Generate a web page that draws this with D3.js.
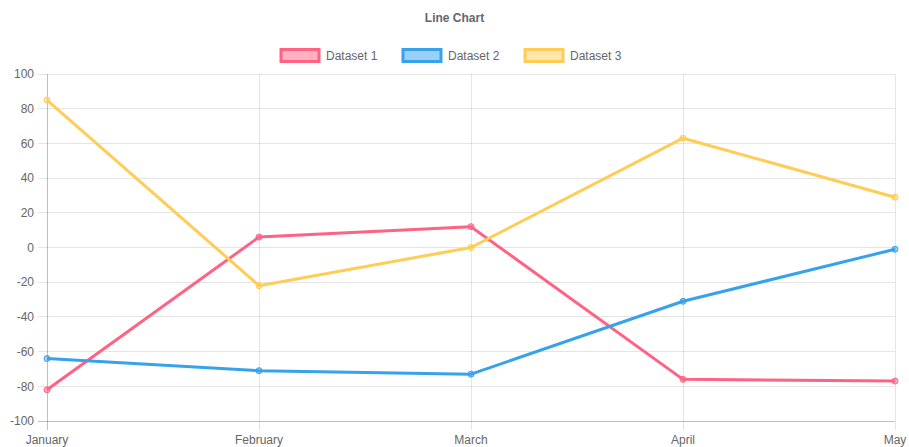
<!DOCTYPE html>
<html>
<head>
<meta charset="utf-8">
<script src="https://cdn.jsdelivr.net/npm/d3@7"></script>
<style>
  body { margin: 0; background: #fff; }
  text { font-family: "Liberation Sans", Arial, Helvetica, sans-serif; fill: #666; }
</style>
</head>
<body>
<div id="chart"></div>
<script>
// data
var months = ["January", "February", "March", "April", "May"];
var dataset1 = [-82, 6, 12, -76, -77];
var dataset2 = [-64, -71, -73, -31, -1];
var dataset3 = [85, -22, 0, 63, 29];
var yTicks = [100, 80, 60, 40, 20, 0, -20, -40, -60, -80, -100];
var seriesNames = ["Dataset 1", "Dataset 2", "Dataset 3"];
var seriesColors = ["rgb(255, 99, 132)", "rgb(54, 162, 235)", "rgb(255, 205, 86)"];
var seriesValues = [dataset1, dataset2, dataset3];

var W = 909, H = 447;
var margin = {top: 74, right: 14, bottom: 26, left: 47},
    width = W - margin.left - margin.right,
    height = H - margin.top - margin.bottom;

var svg = d3.select("#chart")
  .append("svg")
    .attr("width", W)
    .attr("height", H);

var chart = svg.append("g")
    .attr("transform", "translate(" + margin.left + "," + margin.top + ")");

var x = d3.scalePoint()
    .domain(months)
    .range([0, width]);

var y = d3.scaleLinear()
    .domain([-100, 100])
    .range([height, 0]);

// horizontal grid + y ticks
chart.append("g")
  .selectAll("line")
  .data(yTicks)
  .enter()
  .append("line")
    .attr("x1", -9)
    .attr("x2", width)
    .attr("y1", function(d) { return y(d); })
    .attr("y2", function(d) { return y(d); })
    .attr("stroke", function(d) { return d === -100 ? "rgba(0,0,0,0.25)" : "rgba(0,0,0,0.1)"; })
    .attr("stroke-width", 1)
    .attr("shape-rendering", "crispEdges");

// vertical grid + x ticks
chart.append("g")
  .selectAll("line")
  .data(months)
  .enter()
  .append("line")
    .attr("x1", function(d) { return x(d); })
    .attr("x2", function(d) { return x(d); })
    .attr("y1", 0)
    .attr("y2", height + 9)
    .attr("stroke", function(d, i) { return i === 0 ? "rgba(0,0,0,0.25)" : "rgba(0,0,0,0.1)"; })
    .attr("stroke-width", 1)
    .attr("shape-rendering", "crispEdges");

// y axis labels
chart.append("g")
  .selectAll("text")
  .data(yTicks)
  .enter()
  .append("text")
    .attr("x", -13)
    .attr("y", function(d) { return y(d); })
    .attr("dy", "0.35em")
    .attr("text-anchor", "end")
    .style("font-size", "12px")
    .text(function(d) { return d; });

// x axis labels
chart.append("g")
  .selectAll("text")
  .data(months)
  .enter()
  .append("text")
    .attr("x", function(d) { return x(d); })
    .attr("y", height + 23)
    .attr("text-anchor", "middle")
    .style("font-size", "12px")
    .text(function(d) { return d; });

// lines + points
var line = d3.line()
    .x(function(d, i) { return x(months[i]); })
    .y(function(d) { return y(d); });

seriesValues.forEach(function(vals, s) {
  chart.append("path")
    .datum(vals)
    .attr("fill", "none")
    .attr("stroke", seriesColors[s])
    .attr("stroke-width", 3)
    .attr("stroke-linejoin", "round")
    .attr("d", line);
});

seriesValues.forEach(function(vals, s) {
  chart.append("g")
    .selectAll("circle")
    .data(vals)
    .enter()
    .append("circle")
      .attr("cx", function(d, i) { return x(months[i]); })
      .attr("cy", function(d) { return y(d); })
      .attr("r", 3)
      .attr("fill", seriesColors[s].replace("rgb", "rgba").replace(")", ", 0.5)"))
      .attr("stroke", seriesColors[s])
      .attr("stroke-width", 1);
});

// title
svg.append("text")
    .attr("x", W / 2)
    .attr("y", 22)
    .attr("text-anchor", "middle")
    .style("font-size", "12px")
    .style("font-weight", "bold")
    .text("Line Chart");

// legend
var legendX = [280, 402, 524];
var legend = svg.append("g");
seriesNames.forEach(function(name, s) {
  legend.append("rect")
    .attr("x", legendX[s] + 1)
    .attr("y", 49.5)
    .attr("width", 38)
    .attr("height", 12)
    .attr("fill", seriesColors[s].replace("rgb", "rgba").replace(")", ", 0.5)"))
    .attr("stroke", seriesColors[s])
    .attr("stroke-width", 3);
  legend.append("text")
    .attr("x", legendX[s] + 46)
    .attr("y", 56)
    .attr("dy", "0.35em")
    .style("font-size", "12px")
    .text(name);
});
</script>
</body>
</html>
